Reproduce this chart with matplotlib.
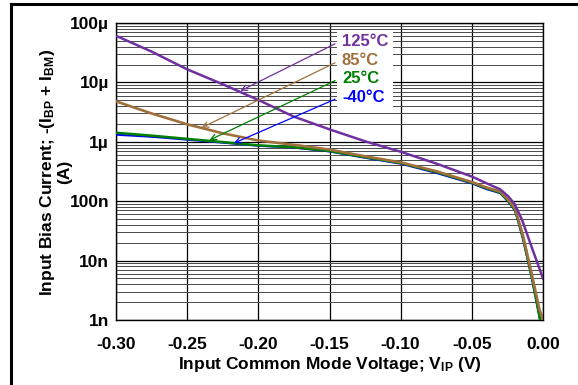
import matplotlib
matplotlib.use("Agg")
import matplotlib.pyplot as plt
from matplotlib.patches import Rectangle
from matplotlib.lines import Line2D
from matplotlib.ticker import FixedLocator, NullFormatter
import numpy as np

plt.rcParams['font.family'] = ['Liberation Sans', 'DejaVu Sans']
plt.rcParams['font.weight'] = 'bold'
plt.rcParams['mathtext.fontset'] = 'custom'
plt.rcParams['mathtext.rm'] = 'Liberation Sans:bold'
plt.rcParams['mathtext.bf'] = 'Liberation Sans:bold'
plt.rcParams['mathtext.default'] = 'bf'

# datos (V, A)
v_125 = [-0.30, -0.275, -0.25, -0.225, -0.20, -0.175, -0.15, -0.125, -0.10, -0.075,
         -0.05, -0.0396, -0.030, -0.0243, -0.0197, -0.015, -0.0138, -0.008, 0.0]
i_125 = [61e-6, 33e-6, 16.6e-6, 9.3e-6, 5.06e-6, 2.65e-6, 1.62e-6, 1.02e-6, 0.68e-6, 0.43e-6,
         0.26e-6, 0.20e-6, 0.158e-6, 0.12e-6, 0.088e-6, 50e-9, 42e-9, 17e-9, 5e-9]

v_85 = [-0.30, -0.275, -0.25, -0.225, -0.20, -0.175, -0.15, -0.125, -0.10, -0.075,
        -0.05, -0.0396, -0.030, -0.0243, -0.0197, -0.0174, -0.0138, -0.008, -0.0025, 0.0]
i_85 = [4.8e-6, 3.0e-6, 1.97e-6, 1.39e-6, 1.05e-6, 0.89e-6, 0.74e-6, 0.57e-6, 0.45e-6, 0.32e-6,
        0.21e-6, 0.17e-6, 0.145e-6, 0.105e-6, 0.076e-6, 50e-9, 25e-9, 6.1e-9, 1.5e-9, 1e-9]

v_25 = [-0.30, -0.275, -0.25, -0.225, -0.20, -0.175, -0.15, -0.125, -0.10, -0.075,
        -0.05, -0.0396, -0.030, -0.0243, -0.0197, -0.0174, -0.0138, -0.008, -0.002]
i_25 = [1.42e-6, 1.27e-6, 1.12e-6, 0.99e-6, 0.87e-6, 0.81e-6, 0.70e-6, 0.55e-6, 0.44e-6, 0.31e-6,
        0.205e-6, 0.165e-6, 0.14e-6, 0.10e-6, 0.072e-6, 47e-9, 23e-9, 5.5e-9, 1e-9]

v_m40 = [-0.30, -0.275, -0.25, -0.225, -0.20, -0.175, -0.15, -0.125, -0.10, -0.075,
         -0.05, -0.0396, -0.030, -0.0243, -0.0197, -0.0174, -0.0138, -0.008, -0.002]
i_m40 = [1.32e-6, 1.22e-6, 1.09e-6, 0.97e-6, 0.86e-6, 0.80e-6, 0.69e-6, 0.54e-6, 0.43e-6, 0.30e-6,
         0.20e-6, 0.16e-6, 0.137e-6, 0.098e-6, 0.07e-6, 46e-9, 22e-9, 5.3e-9, 1e-9]

x_ticks = [-0.30, -0.25, -0.20, -0.15, -0.10, -0.05, 0.00]
x_labels = ['-0.30', '-0.25', '-0.20', '-0.15', '-0.10', '-0.05', '0.00']
y_ticks = [1e-9, 1e-8, 1e-7, 1e-6, 1e-5, 1e-4]
y_labels = ['1n', '10n', '100n', '1\u00b5', '10\u00b5', '100\u00b5']

etiquetas = ['125\u00b0C', '85\u00b0C', '25\u00b0C', '-40\u00b0C']
colores = ['#7030A0', '#A0703C', '#008000', '#0000FF']
texto_y = [4.8e-5, 2.3e-5, 1.15e-5, 5.6e-6]
flecha_xy = [(-0.2126, 7.2e-6), (-0.2398, 1.73e-6), (-0.2343, 1.07e-6), (-0.2171, 9.5e-7)]

fig = plt.figure(figsize=(5.78, 3.85), dpi=100)
ax = fig.add_axes([116 / 578, 1 - 320 / 385, 427 / 578, 297 / 385])

ax.set_yscale('log')
ax.set_xlim(-0.30, 0.0)
ax.set_ylim(1e-9, 1e-4)

ax.plot(v_m40, i_m40, color=colores[3], lw=1.6, zorder=4)
ax.plot(v_25, i_25, color=colores[2], lw=1.8, zorder=5)
ax.plot(v_85, i_85, color=colores[1], lw=1.9, zorder=6)
ax.plot(v_125, i_125, color=colores[0], lw=1.8, zorder=7)

# cuadrícula
ax.xaxis.set_major_locator(FixedLocator(x_ticks))
ax.set_xticklabels(x_labels)
ax.yaxis.set_major_locator(FixedLocator(y_ticks))
ax.set_yticklabels(y_labels)
minors = [m * 10.0 ** e for e in range(-9, -4) for m in range(2, 10)]
ax.yaxis.set_minor_locator(FixedLocator(minors))
ax.yaxis.set_minor_formatter(NullFormatter())
ax.grid(True, which='major', color='black', lw=0.9, zorder=1)
ax.grid(True, which='minor', axis='y', color='#4a4a4a', lw=0.7, zorder=1)
ax.set_axisbelow(True)
ax.tick_params(which='both', length=0)
ax.tick_params(axis='x', pad=12.5, labelsize=12.5)
ax.tick_params(axis='y', pad=5, labelsize=12.5)
for lab in ax.get_xticklabels() + ax.get_yticklabels():
    lab.set_fontweight('bold')
for s in ax.spines.values():
    s.set_linewidth(1.0)

# caja blanca de la leyenda
ax.add_patch(Rectangle((-0.1448, 3.85e-6), 0.0394, 7.1e-5 - 3.85e-6,
                       facecolor='white', edgecolor='none', zorder=2))

for lab, c, ty, xy in zip(etiquetas, colores, texto_y, flecha_xy):
    ax.text(-0.1413, ty, lab, color=c, fontsize=12, fontweight='bold',
            ha='left', va='center', zorder=8)
    ax.annotate('', xy=xy, xytext=(-0.1461, ty * 0.93),
                arrowprops=dict(arrowstyle='->', color=c, lw=0.9,
                                shrinkA=0, shrinkB=0, mutation_scale=10),
                zorder=8)

ax.set_xlabel('Input Common Mode Voltage; V$_{IP}$ (V)', fontsize=12.5,
              fontweight='bold', labelpad=2)
fig.text(55 / 578, 1 - 172 / 385,
         'Input Bias Current; -(I$_{BP}$ + I$_{BM}$)\n(A)',
         rotation=90, ha='center', va='center', multialignment='center',
         fontsize=12.5, fontweight='bold', linespacing=1.0)

# marco exterior
fig.add_artist(Line2D([11 / 578, 1.0], [1 - 4 / 385, 1 - 4 / 385],
                      color='black', lw=2.2, transform=fig.transFigure))
fig.add_artist(Line2D([11 / 578, 11 / 578], [1 - 4 / 385, 0.0],
                      color='black', lw=2.2, transform=fig.transFigure))

fig.savefig('out.png', dpi=100)
